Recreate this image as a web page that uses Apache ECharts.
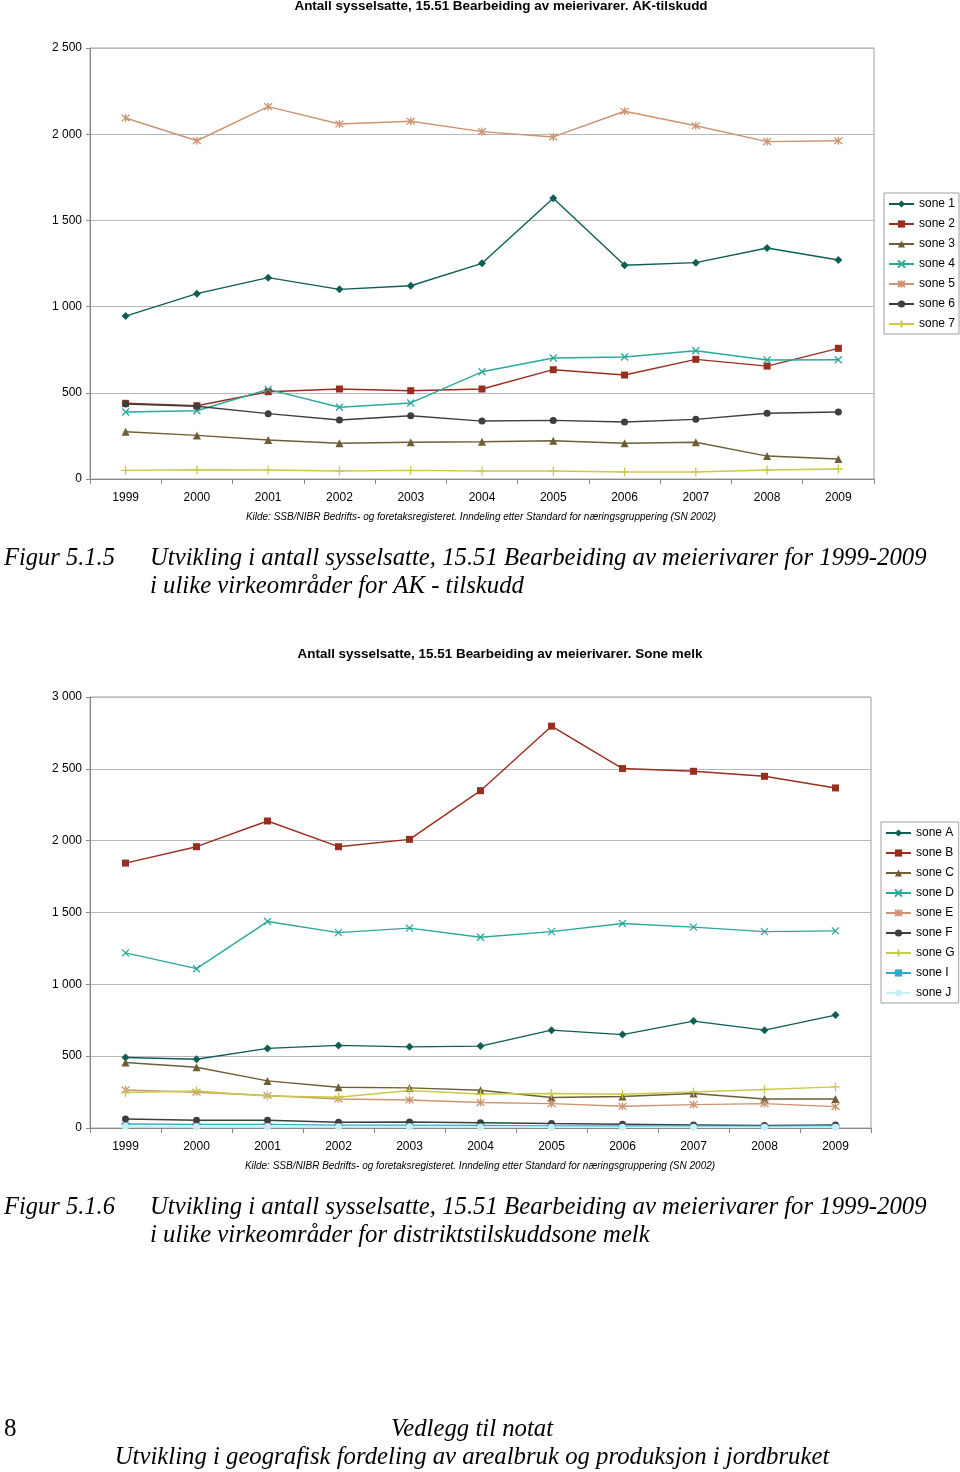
<!DOCTYPE html>
<html><head><meta charset="utf-8">
<script src="https://cdn.jsdelivr.net/npm/echarts@6/dist/echarts.min.js"></script>
<style>html,body{margin:0;padding:0;background:#fff}#c{width:960px;height:1472px}</style>
</head><body><div id="c"></div>
<script>
// ---------- data ----------
const years = ['1999','2000','2001','2002','2003','2004','2005','2006','2007','2008','2009'];

// Chart 1: AK-tilskudd
const akNames = ['sone 1','sone 2','sone 3','sone 4','sone 5','sone 6','sone 7'];
const akSone1 = [945, 1075, 1168, 1100, 1121, 1251, 1628, 1240, 1255, 1340, 1270];
const akSone2 = [439, 425, 506, 522, 512, 522, 634, 603, 694, 655, 758];
const akSone3 = [274, 253, 226, 207, 213, 216, 222, 207, 213, 133, 116];
const akSone4 = [389, 396, 520, 416, 441, 622, 702, 708, 744, 690, 692];
const akSone5 = [2094, 1962, 2160, 2059, 2075, 2015, 1984, 2133, 2049, 1957, 1962];
const akSone6 = [435, 422, 379, 342, 367, 336, 340, 331, 346, 381, 389];
const akSone7 = [50, 54, 52, 46, 50, 46, 46, 41, 41, 52, 58];

// Chart 2: Sone melk
const melkNames = ['sone A','sone B','sone C','sone D','sone E','sone F','sone G','sone I','sone J'];
const melkA = [491, 479, 554, 575, 565, 570, 681, 650, 744, 681, 786];
const melkB = [1844, 1958, 2137, 1958, 2009, 2348, 2797, 2502, 2483, 2448, 2367];
const melkC = [456, 423, 328, 284, 279, 263, 212, 219, 240, 202, 202];
const melkD = [1219, 1109, 1437, 1360, 1391, 1328, 1367, 1423, 1398, 1367, 1372];
const melkE = [265, 249, 226, 202, 195, 177, 170, 151, 163, 170, 149];
const melkF = [63, 54, 54, 40, 42, 37, 31, 26, 21, 17, 21];
const melkG = [247, 258, 223, 214, 261, 237, 240, 235, 251, 268, 286];
const melkI = [28, 25, 25, 20, 20, 18, 15, 14, 13, 13, 16];
const melkJ = [10, 9, 9, 8, 8, 7, 6, 6, 5, 5, 6];

// ---------- styling ----------
const FONT = '"Liberation Sans", Arial, sans-serif';
const SERIF = '"Liberation Serif", "Times New Roman", serif';
const SYM = {
  diamond: {symbol: 'diamond', size: 8, stroke: false},
  rect: {symbol: 'rect', size: 7, stroke: false},
  triangle: {symbol: 'triangle', size: 8, stroke: false},
  x: {symbol: 'path://M0,0L10,10M10,0L0,10', size: 7, stroke: true},
  star: {symbol: 'path://M0,0L10,10M10,0L0,10M5,-1L5,11', size: 8, stroke: true},
  circle: {symbol: 'circle', size: 7, stroke: false},
  plus: {symbol: 'path://M5,0L5,10M0,5L10,5', size: 9, stroke: true},
  dash: {symbol: 'rect', size: [8, 3], stroke: false}
};
const COL = {
  s1: '#0F5E55', s2: '#9A2E1E', s3: '#6C5E35', s4: '#2AA89B',
  s5: '#CC9470', s6: '#3E3E3E', s7: '#C9C94A', sI: '#2FA8CC', sJ: '#C8F0F6'
};

function mk(name, data, color, symKey, gi) {
  const s = SYM[symKey];
  return {
    name, type: 'line', data, xAxisIndex: gi, yAxisIndex: gi,
    symbol: s.symbol, symbolSize: s.size, showSymbol: true,
    lineStyle: {color, width: 1.4},
    itemStyle: s.stroke ? {color, borderColor: color, borderWidth: 1.3} : {color, borderWidth: 0},
    emphasis: {disabled: true}, animation: false, z: 3
  };
}

function thousands(v) {
  return String(v).replace(/\B(?=(\d{3})+(?!\d))/g, ' ');
}

function yAx(gi, max) {
  return {
    gridIndex: gi, type: 'value', min: 0, max, interval: 500,
    axisLine: {show: true, lineStyle: {color: '#888', width: 1}},
    axisTick: {show: true, length: 4, lineStyle: {color: '#888'}},
    splitLine: {show: true, lineStyle: {color: '#B8B8B8', width: 1}},
    axisLabel: {color: '#000', fontSize: 12, fontFamily: FONT, margin: 8, formatter: thousands}
  };
}
function xAx(gi) {
  return {
    gridIndex: gi, type: 'category', data: years, boundaryGap: true,
    axisLine: {show: true, lineStyle: {color: '#888', width: 1}},
    axisTick: {show: true, length: 5, lineStyle: {color: '#888'}},
    axisLabel: {color: '#000', fontSize: 12, fontFamily: FONT, margin: 13},
    splitLine: {show: false}
  };
}

function legend(names, top, left) {
  return {
    data: names, orient: 'vertical', left, top,
    backgroundColor: '#fff', borderColor: '#A0A0A0', borderWidth: 1,
    padding: [5, 4, 4, 4], itemGap: 8, itemWidth: 25, itemHeight: 9,
    textStyle: {color: '#000', fontSize: 12, fontFamily: FONT},
    selectedMode: false
  };
}

function txt(x, y, text, font, align, sx) {
  return {type: 'text', x, y, silent: true, scaleX: sx || 1,
    style: {text, font, fill: '#000', textAlign: align || 'left', textVerticalAlign: 'middle'}};
}

const chart = echarts.init(document.getElementById('c'), null, {renderer: 'canvas'});
chart.setOption({
  backgroundColor: '#fff',
  animation: false,
  grid: [
    {left: 90, top: 48, width: 784, height: 431, show: true, borderColor: '#A0A0A0', borderWidth: 1, backgroundColor: 'transparent'},
    {left: 90, top: 697, width: 781, height: 431, show: true, borderColor: '#A0A0A0', borderWidth: 1, backgroundColor: 'transparent'}
  ],
  xAxis: [xAx(0), xAx(1)],
  yAxis: [yAx(0, 2500), yAx(1, 3000)],
  legend: [legend(akNames, 193, 884), legend(melkNames, 822, 881)],
  series: [
    mk('sone 1', akSone1, COL.s1, 'diamond', 0),
    mk('sone 2', akSone2, COL.s2, 'rect', 0),
    mk('sone 3', akSone3, COL.s3, 'triangle', 0),
    mk('sone 4', akSone4, COL.s4, 'x', 0),
    mk('sone 5', akSone5, COL.s5, 'star', 0),
    mk('sone 6', akSone6, COL.s6, 'circle', 0),
    mk('sone 7', akSone7, COL.s7, 'plus', 0),
    mk('sone A', melkA, COL.s1, 'diamond', 1),
    mk('sone B', melkB, COL.s2, 'rect', 1),
    mk('sone C', melkC, COL.s3, 'triangle', 1),
    mk('sone D', melkD, COL.s4, 'x', 1),
    mk('sone E', melkE, COL.s5, 'star', 1),
    mk('sone F', melkF, COL.s6, 'circle', 1),
    mk('sone G', melkG, COL.s7, 'plus', 1),
    mk('sone I', melkI, COL.sI, 'dash', 1),
    mk('sone J', melkJ, COL.sJ, 'circle', 1)
  ],
  graphic: [
    txt(501, 7, 'Antall sysselsatte, 15.51 Bearbeiding av meierivarer. AK-tilskudd', 'bold 12px ' + FONT, 'center', 1.12),
    txt(481, 517, 'Kilde: SSB/NIBR Bedrifts- og foretaksregisteret. Inndeling etter Standard for næringsgruppering (SN 2002)', 'italic 10px ' + FONT, 'center', 1.0),
    txt(4, 558, 'Figur 5.1.5', 'italic 25px ' + SERIF, 'left', 0.98),
    txt(150, 558, 'Utvikling i antall sysselsatte, 15.51 Bearbeiding av meierivarer for 1999-2009', 'italic 25px ' + SERIF, 'left', 0.99),
    txt(150, 586, 'i ulike virkeområder for AK - tilskudd', 'italic 25px ' + SERIF, 'left', 0.99),
    txt(500, 655, 'Antall sysselsatte, 15.51 Bearbeiding av meierivarer. Sone melk', 'bold 12px ' + FONT, 'center', 1.12),
    txt(480, 1166, 'Kilde: SSB/NIBR Bedrifts- og foretaksregisteret. Inndeling etter Standard for næringsgruppering (SN 2002)', 'italic 10px ' + FONT, 'center', 1.0),
    txt(4, 1207, 'Figur 5.1.6', 'italic 25px ' + SERIF, 'left', 0.98),
    txt(150, 1207, 'Utvikling i antall sysselsatte, 15.51 Bearbeiding av meierivarer for 1999-2009', 'italic 25px ' + SERIF, 'left', 0.99),
    txt(150, 1235, 'i ulike virkeområder for distriktstilskuddsone melk', 'italic 25px ' + SERIF, 'left', 0.99),
    txt(4, 1429, '8', '25px ' + SERIF),
    txt(472, 1429, 'Vedlegg til notat', 'italic 25px ' + SERIF, 'center', 0.99),
    txt(472, 1457, 'Utvikling i geografisk fordeling av arealbruk og produksjon i jordbruket', 'italic 25px ' + SERIF, 'center', 0.99)
  ]
});
</script>
</body></html>
